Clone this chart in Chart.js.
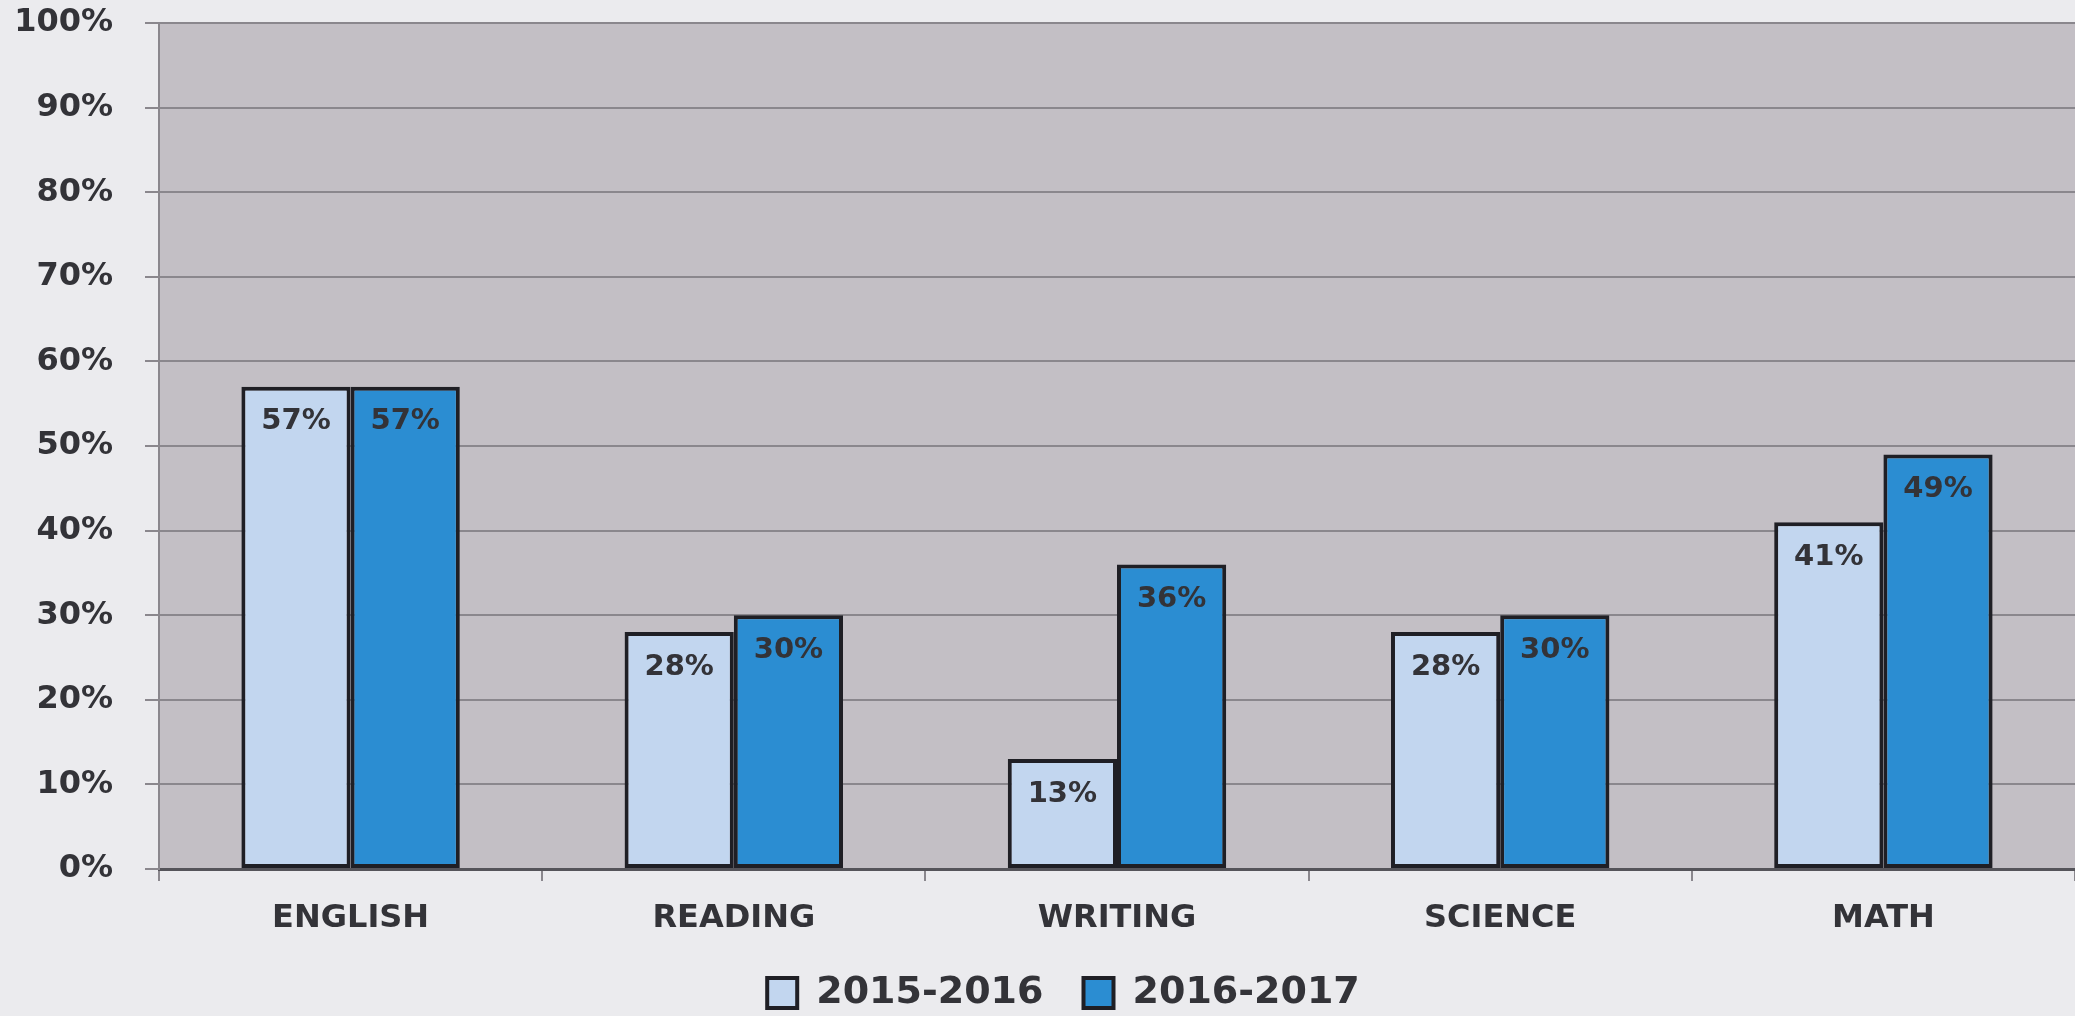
<!DOCTYPE html>
<html>
<head>
<meta charset="utf-8">
<script src="https://cdn.jsdelivr.net/npm/chart.js@4.4.1/dist/chart.umd.min.js"></script>
<style>
    html, body { margin: 0; padding: 0; background: #ebebee; }
    #wrap { width: 2075px; height: 1016px; }
</style>
</head>
<body>
<div id="wrap"><canvas id="scoreChart" width="2075" height="1016"></canvas></div>
<script>
const subjects = ["ENGLISH", "READING", "WRITING", "SCIENCE", "MATH"];
const years = ["2015-2016", "2016-2017"];
const scores2016 = [57, 28, 13, 28, 41];
const scores2017 = [57, 30, 36, 30, 49];
const yTicks = [0, 10, 20, 30, 40, 50, 60, 70, 80, 90, 100];

const fontFamily = "'DejaVu Sans', sans-serif";
const textColor = "#333338";

// grey plot background behind the bars
const plotBackground = {
    id: "plotBackground",
    beforeDraw(chart) {
        const { ctx, chartArea } = chart;
        ctx.save();
        ctx.fillStyle = "#c3bfc5";
        ctx.fillRect(chartArea.left, chartArea.top, chartArea.right - chartArea.left, chartArea.bottom - chartArea.top);
        ctx.restore();
    }
};

// legend in the original sits a little right of the page centre
const legendShift = {
    id: "legendShift",
    afterLayout(chart) {
        if (chart.legend) {
            chart.legend.left += 26;
            chart.legend.right += 26;
        }
    }
};

// percent labels just inside the top of each bar
const barLabels = {
    id: "barLabels",
    afterDatasetsDraw(chart) {
        const ctx = chart.ctx;
        ctx.save();
        ctx.font = "bold 29px " + fontFamily;
        ctx.fillStyle = textColor;
        ctx.textAlign = "center";
        ctx.textBaseline = "middle";
        chart.data.datasets.forEach((ds, i) => {
            chart.getDatasetMeta(i).data.forEach((bar, j) => {
                ctx.fillText(ds.data[j] + "%", bar.x, bar.y + 35);
            });
        });
        ctx.restore();
    }
};

new Chart(document.getElementById("scoreChart"), {
    type: "bar",
    data: {
        labels: subjects,
        datasets: [{
            label: years[0],
            data: scores2016,
            backgroundColor: "#c2d6ef",
            borderColor: "#1f1f25",
            borderWidth: 4,
            borderSkipped: false
        }, {
            label: years[1],
            data: scores2017,
            backgroundColor: "#2b8dd2",
            borderColor: "#1f1f25",
            borderWidth: 4,
            borderSkipped: false
        }]
    },
    options: {
        responsive: false,
        animation: false,
        layout: { padding: { top: 23, right: 0, left: 0, bottom: -6 } },
        datasets: { bar: { barPercentage: 1, categoryPercentage: 0.57 } },
        scales: {
            x: {
                afterFit(scale) {
                    scale.height = 65;
                },
                grid: {
                    offset: true,
                    drawOnChartArea: false,
                    color: "#8a878d",
                    lineWidth: 2,
                    tickLength: 12
                },
                border: { color: "#55545a", width: 3 },
                ticks: {
                    color: textColor,
                    padding: 18,
                    font: { family: fontFamily, size: 32, weight: "bold" }
                }
            },
            y: {
                min: 0,
                max: 100,
                afterBuildTicks(scale) {
                    scale.ticks = yTicks.map(v => ({ value: v }));
                },
                afterFit(scale) {
                    scale.width = 159;
                    scale.paddingTop = 0;
                    scale.paddingBottom = 0;
                },
                grid: {
                    color: "#8a878d",
                    lineWidth: 2,
                    tickLength: 14
                },
                border: { color: "#8a878d", width: 2 },
                ticks: {
                    color: textColor,
                    padding: 32,
                    font: { family: fontFamily, size: 32, weight: "bold" },
                    callback: v => v + "%"
                }
            }
        },
        plugins: {
            legend: {
                position: "bottom",
                labels: {
                    color: textColor,
                    boxWidth: 30,
                    boxHeight: 30,
                    padding: 40,
                    font: { family: fontFamily, size: 38, weight: "bold" }
                }
            },
            tooltip: { enabled: false }
        }
    },
    plugins: [plotBackground, legendShift, barLabels]
});
</script>
</body>
</html>
